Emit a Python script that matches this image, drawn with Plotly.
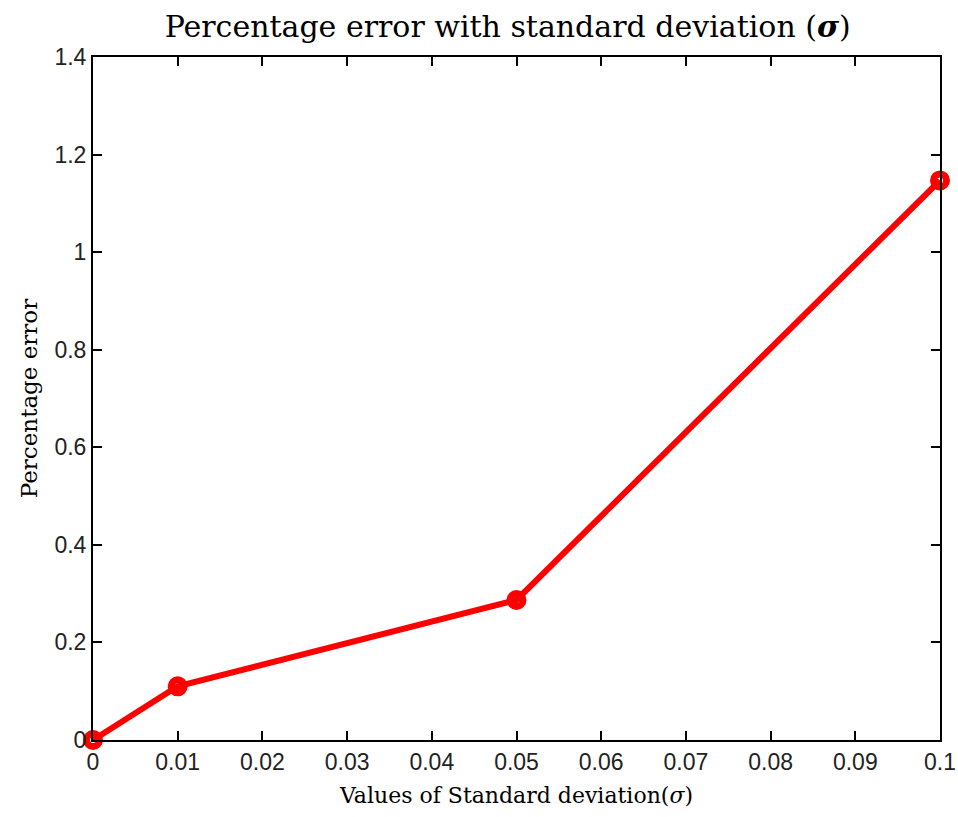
import plotly.graph_objects as go

sigma = [0, 0.01, 0.05, 0.1]
pct_error = [0.0, 0.11, 0.287, 1.147]

x_ticks = [0, 0.01, 0.02, 0.03, 0.04, 0.05, 0.06, 0.07, 0.08, 0.09, 0.1]
x_labels = ["0", "0.01", "0.02", "0.03", "0.04", "0.05", "0.06", "0.07", "0.08", "0.09", "0.1"]
y_ticks = [0, 0.2, 0.4, 0.6, 0.8, 1.0, 1.2, 1.4]
y_labels = ["0", "0.2", "0.4", "0.6", "0.8", "1", "1.2", "1.4"]

fig = go.Figure()
fig.add_trace(go.Scatter(
    x=sigma, y=pct_error, mode="lines+markers",
    line=dict(color="#ff0000", width=6),
    marker=dict(symbol="circle-open", size=13, color="#ff0000",
                line=dict(color="#ff0000", width=7)),
    cliponaxis=False, showlegend=False,
))

serif = "DejaVu Serif, Liberation Serif, serif"
sans = "Liberation Sans, Arial, sans-serif"

fig.update_layout(
    width=958, height=817,
    margin=dict(l=93, r=18, t=57, b=77),
    paper_bgcolor="white", plot_bgcolor="white",
    title=dict(text="Percentage error with standard deviation (<b><i>σ</i></b>)",
               x=0.53, xanchor="center", y=0.968, yanchor="middle",
               font=dict(family=serif, size=30, color="black")),
    xaxis=dict(range=[0, 0.1], tickvals=x_ticks, ticktext=x_labels,
               ticks="inside", ticklen=9, tickwidth=1.5, tickcolor="black",
               showline=True, linecolor="black", linewidth=2, mirror="allticks",
               showgrid=False, zeroline=False, automargin=False,
               tickfont=dict(family=sans, size=23, color="#222"),
               title=dict(text="Values of Standard deviation(<i>σ</i>)",
                          font=dict(family=serif, size=22, color="black"),
                          standoff=14)),
    yaxis=dict(range=[0, 1.4], tickvals=y_ticks, ticktext=y_labels,
               ticks="inside", ticklen=9, tickwidth=1.5, tickcolor="black",
               showline=True, linecolor="black", linewidth=2, mirror="allticks",
               showgrid=False, zeroline=False, automargin=False,
               tickfont=dict(family=sans, size=23, color="#222"),
               title=dict(text="Percentage error",
                          font=dict(family=serif, size=23, color="black"),
                          standoff=10)),
)

fig.write_html("out.html")
